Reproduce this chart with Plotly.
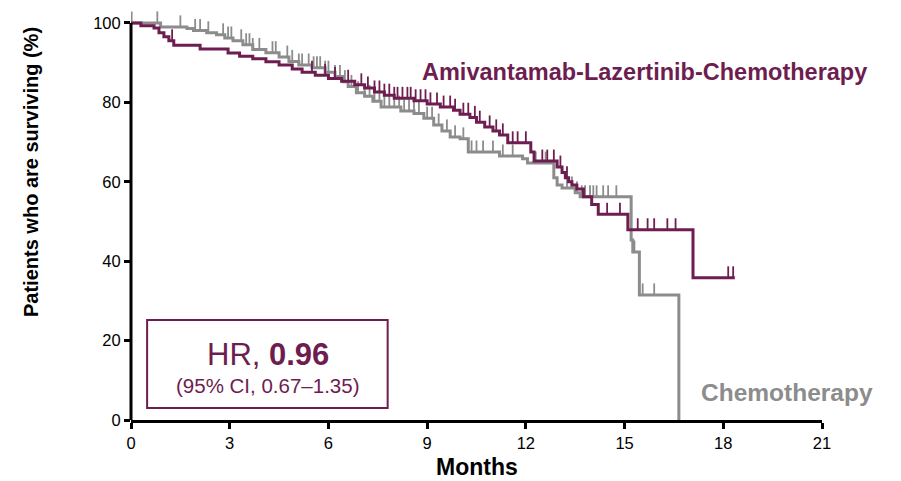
import plotly.graph_objects as go
import numpy as np

# Kaplan-Meier step estimates (months, % surviving)
alc_time = [0, 0.3, 0.7, 0.85, 1.0, 1.15, 1.3, 2.1, 2.95, 3.3, 3.7, 4.1, 4.5, 4.9, 5.2, 5.6,
            6.0, 6.4, 6.8, 7.1, 7.4, 7.7, 8.0, 8.6, 9.0, 9.4, 9.8, 10.0, 10.3, 10.5, 10.75,
            11.0, 11.2, 11.45, 12.15, 12.25, 12.95, 13.1, 13.2, 13.3, 13.4, 13.55, 13.75,
            14.0, 14.2, 15.1, 17.08, 18.35]
alc_surv = [100, 99.3, 98.7, 97.5, 96.5, 95.5, 94.4, 93.4, 92.4, 91.6, 91.0, 90.2, 89.4, 88.4,
            87.6, 86.8, 86.0, 85.3, 84.4, 83.6, 82.6, 81.8, 81.0, 80.4, 79.6, 78.8, 78.0, 77.0,
            76.2, 75.0, 73.8, 72.8, 71.8, 69.8, 67.5, 65.2, 63.7, 62.3, 61.0, 60.0, 59.2, 58.2,
            56.2, 54.3, 51.8, 47.9, 35.8, 35.8]
alc_censor = [1.25, 5.5, 5.9, 6.2, 6.6, 7.0, 7.2, 7.4, 7.55, 7.7, 7.85, 8.0, 8.1, 8.25, 8.4,
              8.5, 8.65, 8.8, 8.95, 9.1, 9.3, 9.5, 9.7, 9.85, 10.1, 10.25, 10.45, 10.6, 10.9,
              11.1, 11.3, 11.6, 11.75, 12.0, 12.5, 12.65, 12.85, 13.05, 13.25, 14.47, 14.86,
              15.4, 15.7, 15.9, 16.3, 16.55, 18.15, 18.3]

chemo_time = [0, 0.9, 1.7, 1.9, 2.3, 2.6, 2.85, 3.1, 3.4, 3.7, 4.1, 4.5, 4.8, 5.1, 5.5, 5.9,
              6.2, 6.45, 6.6, 6.85, 7.1, 7.35, 7.6, 8.2, 8.6, 8.9, 9.2, 9.45, 9.7, 10.0, 10.25,
              11.2, 11.9, 12.05, 12.85, 12.95, 13.1, 13.5, 13.65, 15.2, 15.25, 15.45, 16.65]
chemo_surv = [100, 99.0, 98.6, 98.1, 97.5, 97.0, 96.2, 95.5, 94.5, 93.3, 92.5, 91.4, 90.3, 89.4,
              88.7, 87.6, 86.5, 85.2, 84.0, 82.4, 81.5, 80.3, 78.8, 77.8, 77.2, 76.0, 74.3, 72.8,
              71.3, 70.8, 67.5, 66.5, 65.8, 64.7, 61.0, 59.2, 58.4, 57.2, 56.2, 45.3, 42.3,
              31.5, 0]
chemo_censor = [0.02, 0.8, 1.5, 1.95, 2.1, 2.35, 2.8, 2.95, 3.05, 3.35, 3.5, 3.6, 3.7, 3.9,
                4.3, 4.4, 4.75, 4.9, 5.1, 5.2, 5.4, 5.55, 5.65, 5.75, 5.9, 6.0, 6.2, 6.35, 6.5,
                6.7, 6.9, 7.1, 7.25, 7.4, 7.55, 7.7, 7.85, 8.0, 8.15, 8.3, 8.45, 8.6, 8.75,
                9.0, 9.15, 9.35, 9.6, 9.85, 10.1, 10.35, 10.5, 10.7, 11.0, 11.3, 11.6, 12.3,
                12.6, 13.25, 13.4, 13.55, 13.7, 13.8, 13.95, 14.05, 14.15, 14.35, 14.5, 14.75,
                15.3, 15.55, 15.9]

x_ticks = [0, 3, 6, 9, 12, 15, 18, 21]
y_ticks = [0, 20, 40, 60, 80, 100]

PURPLE = "#6E1D50"
GREY = "#8C8C8C"
FONT = "Liberation Sans, Arial, sans-serif"
TICK_H = 2.9  # censor tick height in % units

# plot area in pixels
M_L, M_R, M_T, M_B = 131, 79, 11, 61
PLOT_W = 901 - M_L - M_R
PLOT_H = 481 - M_T - M_B


def surv_at(times, survs, t):
    idx = np.searchsorted(times, t, side="right") - 1
    return survs[max(idx, 0)]


def censor_segments(times, survs, cens):
    xs, ys = [], []
    for t in cens:
        s = surv_at(times, survs, t)
        xs += [t, t, None]
        ys += [s, s + TICK_H, None]
    return xs, ys


fig = go.Figure()

for times, survs, cens, color in [(chemo_time, chemo_surv, chemo_censor, GREY),
                                   (alc_time, alc_surv, alc_censor, PURPLE)]:
    cx, cy = censor_segments(times, survs, cens)
    fig.add_trace(go.Scatter(x=cx, y=cy, mode="lines", line=dict(color=color, width=1.8),
                             hoverinfo="skip", showlegend=False))
    fig.add_trace(go.Scatter(x=times, y=survs, mode="lines", line=dict(color=color, width=3, shape="hv"),
                             showlegend=False))

# y axis line drawn only from 0 to 100
fig.add_shape(type="line", xref="paper", yref="y", x0=0, x1=0, y0=0, y1=100,
              line=dict(color="black", width=3))

# hazard ratio box
fig.add_shape(type="rect", xref="x", yref="y", x0=0.49, x1=7.8, y0=3.0, y1=25.2,
              line=dict(color=PURPLE, width=2), fillcolor="white")
fig.add_annotation(x=4.15, y=16.4, xref="x", yref="y", showarrow=False,
                   text="HR, <b>0.96</b>", font=dict(family=FONT, size=31, color=PURPLE))
fig.add_annotation(x=4.15, y=8.8, xref="x", yref="y", showarrow=False,
                   text="(95% CI, 0.67\u20131.35)", font=dict(family=FONT, size=20.5, color=PURPLE))

fig.add_annotation(x=15.62, y=87.7, xref="x", yref="y", showarrow=False,
                   text="<b>Amivantamab-Lazertinib-Chemotherapy</b>",
                   font=dict(family=FONT, size=23.5, color=PURPLE))
fig.add_annotation(x=19.94, y=7.0, xref="x", yref="y", showarrow=False,
                   text="<b>Chemotherapy</b>", font=dict(family=FONT, size=24.5, color=GREY))

# axis titles
fig.add_annotation(xref="paper", yref="paper", x=(31 - M_L) / PLOT_W, y=(420 - 172) / PLOT_H,
                   xanchor="center", yanchor="middle",
                   showarrow=False, textangle=-90,
                   text="<b>Patients who are surviving (%)</b>",
                   font=dict(family=FONT, size=20, color="black"))
fig.add_annotation(xref="paper", yref="paper", x=0.5, y=(420 - 467) / PLOT_H,
                   xanchor="center", yanchor="middle",
                   showarrow=False, text="<b>Months</b>",
                   font=dict(family=FONT, size=23, color="black"))

fig.update_layout(
    width=901, height=481,
    margin=dict(l=M_L, r=M_R, t=M_T, b=M_B),
    paper_bgcolor="white", plot_bgcolor="white",
    font=dict(family=FONT, color="black"),
    xaxis=dict(range=[0, 21], tickvals=x_ticks, ticktext=[str(v) for v in x_ticks],
               automargin=False,
               showgrid=False, zeroline=False, showline=True, linecolor="black", linewidth=3,
               ticks="outside", ticklen=6, tickwidth=3, tickcolor="black",
               tickfont=dict(size=16.5, family=FONT)),
    yaxis=dict(range=[0, 103], tickvals=y_ticks, ticktext=[str(v) for v in y_ticks],
               automargin=False,
               showgrid=False, zeroline=False, showline=False,
               ticks="outside", ticklen=6, tickwidth=3, tickcolor="black",
               tickfont=dict(size=16.5, family=FONT)),
)

fig.write_html("out.html")
